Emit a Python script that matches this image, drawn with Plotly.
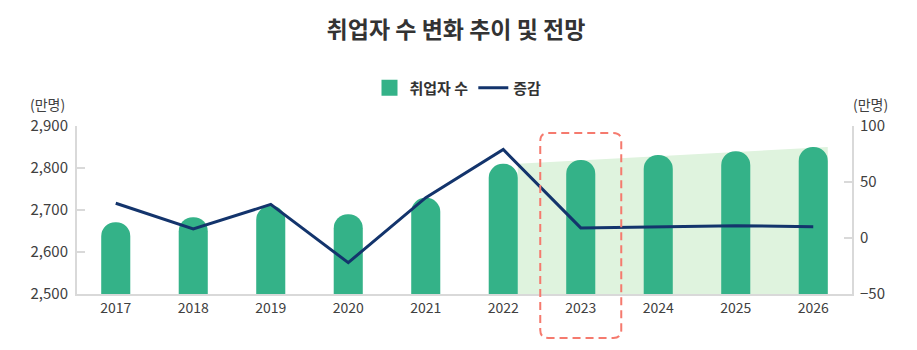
import plotly.graph_objects as go

# ---- data ----
years = ["2017", "2018", "2019", "2020", "2021", "2022", "2023", "2024", "2025", "2026"]
employed = [2671, 2683, 2710, 2690, 2729, 2810, 2819, 2831, 2840, 2850]   # 취업자 수 (만명)
change = [31, 8, 30, -22, 36, 79, 9, 10, 11, 10]                           # 증감 (만명)
left_ticks = [2500, 2600, 2700, 2800, 2900]
right_ticks = [-50, 0, 50, 100]
forecast_from = "2022"
highlight_year = "2023"

# ---- styles ----
BAR = "#34b288"
LINE = "#13346c"
SHADE = "#dff3de"
RED = "#f57a6e"
AXIS = "#d9d9d9"
TXT = "#404040"
FONT = "Noto Sans CJK KR"
BAR_W = 0.375

xs = list(range(len(years)))
W, H = 917, 350
ML, MR, MT, MB = 77, 65, 126, 56
plot_w = W - ML - MR
plot_h = H - MT - MB
px_x = plot_w / len(years)  # px per category unit

fig = go.Figure()

fig.add_trace(go.Bar(
    x=xs, y=employed, width=BAR_W, marker=dict(color=BAR, cornerradius="50%", line_width=0),
    showlegend=False, yaxis="y", hoverinfo="skip"))

fig.add_trace(go.Scatter(
    x=xs, y=change, mode="lines", line=dict(color=LINE, width=3),
    name="<b>증감</b>", yaxis="y2", showlegend=True, legendrank=2))

# legend proxy for bars (square marker)
fig.add_trace(go.Scatter(
    x=[None], y=[None], mode="markers", name="<b>취업자 수</b>",
    marker=dict(symbol="square", size=17, color=BAR), yaxis="y", legendrank=1))

# forecast shading
i0 = years.index(forecast_from)
i1 = len(years) - 1
x0 = xs[i0] + BAR_W / 2
x1 = xs[i1] + BAR_W / 2
ybase = left_ticks[0]
shade_path = (f"M {x0},{ybase} L {x0},{employed[i0]} L {x1},{employed[i1]} "
              f"L {x1},{ybase} Z")
shapes = [dict(type="path", path=shade_path, xref="x", yref="y",
               fillcolor=SHADE, line=dict(width=0), layer="below")]

# highlight box (rounded, dashed)
hi = years.index(highlight_year)
bx0 = xs[hi] - 40.5 / px_x
bx1 = xs[hi] + 40.5 / px_x
by1 = (MT + plot_h - 133) / plot_h
by0 = (MT + plot_h - 338) / plot_h
rx = 8 / px_x
ry = 8 / plot_h
box_path = (f"M {bx0+rx},{by1} L {bx1-rx},{by1} Q {bx1},{by1} {bx1},{by1-ry} "
            f"L {bx1},{by0+ry} Q {bx1},{by0} {bx1-rx},{by0} "
            f"L {bx0+rx},{by0} Q {bx0},{by0} {bx0},{by0+ry} "
            f"L {bx0},{by1-ry} Q {bx0},{by1} {bx0+rx},{by1} Z")
shapes.append(dict(type="path", path=box_path, xref="x", yref="paper",
                   line=dict(color=RED, width=2, dash="8px,5px"), layer="above"))

fig.update_layout(
    width=W, height=H,
    margin=dict(l=ML, r=MR, t=MT, b=MB),
    paper_bgcolor="white", plot_bgcolor="white",
    font=dict(family=FONT, color=TXT, size=14),
    title=dict(text="<b>취업자 수 변화 추이 및 전망</b>", x=(456 / W), xanchor="center",
               y=1 - 30 / H, yanchor="middle", font=dict(size=23, color="#333333")),
    legend=dict(orientation="h", x=(458 - ML) / plot_w, xanchor="center",
                y=(MT + plot_h - 88) / plot_h, yanchor="middle",
                font=dict(size=15, color="#333333"), itemwidth=30,
                traceorder="normal", bgcolor="rgba(0,0,0,0)"),
    xaxis=dict(range=[-0.5, len(years) - 0.5], tickvals=xs, ticktext=years,
               showgrid=False, zeroline=False, showline=True, linecolor=AXIS,
               linewidth=2, ticks="", tickfont=dict(size=14, color=TXT)),
    yaxis=dict(range=[left_ticks[0], left_ticks[-1]], tickvals=left_ticks,
               tickformat=",", showgrid=False, zeroline=False, showline=True,
               linecolor=AXIS, linewidth=2, ticks="inside", ticklen=8,
               tickcolor=AXIS, tickwidth=2, ticklabelstandoff=4,
               tickfont=dict(size=15, color=TXT)),
    yaxis2=dict(range=[right_ticks[0], right_ticks[-1]], tickvals=right_ticks,
                overlaying="y", side="right", showgrid=False, zeroline=False,
                showline=True, linecolor=AXIS, linewidth=2, ticks="inside",
                ticklen=8, tickcolor=AXIS, tickwidth=2, ticklabelstandoff=3,
                tickfont=dict(size=15, color=TXT)),
    shapes=shapes,
    annotations=[
        dict(text="(만명)", xref="paper", yref="paper", x=(47 - ML) / plot_w,
             y=(MT + plot_h - 104) / plot_h, showarrow=False, xanchor="center",
             yanchor="middle", font=dict(size=14, color=TXT)),
        dict(text="(만명)", xref="paper", yref="paper", x=(871 - ML) / plot_w,
             y=(MT + plot_h - 104) / plot_h, showarrow=False, xanchor="center",
             yanchor="middle", font=dict(size=14, color=TXT)),
    ],
)

fig.write_html("out.html")
